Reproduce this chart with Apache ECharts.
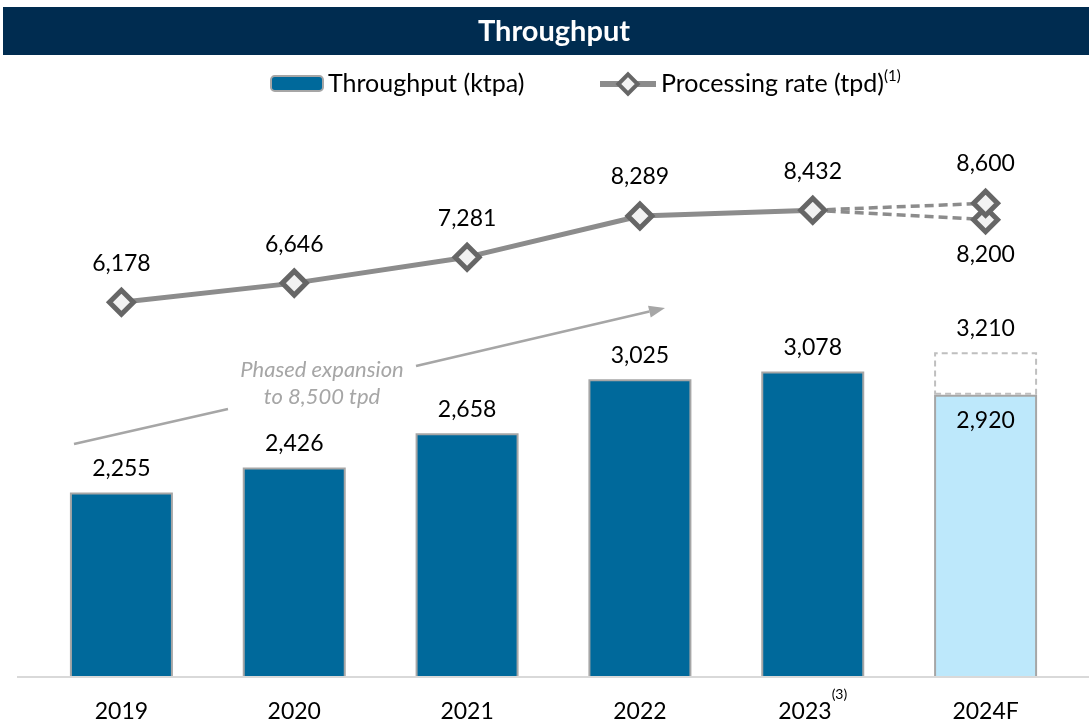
<!DOCTYPE html>
<html>
<head>
<meta charset="utf-8">
<script src="https://cdn.jsdelivr.net/npm/echarts@6/dist/echarts.min.js"></script>
<style>html,body{margin:0;padding:0;background:#fff}#c{width:1089px;height:725px}</style>
</head>
<body>
<div id="c"></div>
<script>
const categories = ['2019', '2020', '2021', '2022', '2023', '2024F'];
const categoryNotes = { '2023': '(3)' };
const throughput = [2255, 2426, 2658, 3025, 3078, 2920];
const throughputHigh2024 = 3210;
const processingRate = [6178, 6646, 7281, 8289, 8432, null];
const rateHigh2024 = 8600;
const rateLow2024 = 8200;

const FONT = 'Lato';
const fmt = v => Number(v).toLocaleString('en-US');
const n = categories.length;

const barData = throughput.map((v, i) => i === n - 1
  ? { value: v, itemStyle: { color: '#BDE8FB' }, label: { position: 'insideTop', distance: 14 } }
  : v);
const topData = categories.map((c, i) => i === n - 1 ? throughputHigh2024 - throughput[i] : null);
const lastActual = processingRate[n - 2];
const dashHigh = categories.map((c, i) => i === n - 2 ? { value: lastActual, symbol: 'none', label: { show: false } } : (i === n - 1 ? rateHigh2024 : null));
const dashLow = categories.map((c, i) => i === n - 2 ? { value: lastActual, symbol: 'none', label: { show: false } } : (i === n - 1 ? rateLow2024 : null));

const chart = echarts.init(document.getElementById('c'));
const diamondStyle = { color: '#F2F2F2', borderColor: '#666666', borderWidth: 5 };
const labelBase = { show: true, color: '#000', fontFamily: FONT, fontSize: 23 };

const dir = [0.975, -0.224], perp = [0.224, 0.975];
const tip = [665, 308];
const base = [tip[0] - 16 * dir[0], tip[1] - 16 * dir[1]];

chart.setOption({
  animation: false,
  textStyle: { fontFamily: FONT },
  grid: { left: 35, right: 17, top: 89, bottom: 48 },
  legend: [
    {
      left: 265, top: 66, padding: 5,
      itemWidth: 52, itemHeight: 15,
      data: ['Throughput (ktpa)'],
      textStyle: { fontFamily: FONT, fontSize: 25, color: '#000' }
    },
    {
      left: 592, top: 64, padding: 5,
      itemWidth: 56, itemHeight: 24,
      data: [{ name: 'Processing rate (tpd)', lineStyle: { width: 6, color: '#8C8C8C' }, itemStyle: { borderWidth: 4, borderColor: '#666666', color: '#F2F2F2' } }],
      textStyle: { fontFamily: FONT, fontSize: 25, color: '#000',
        rich: {
          n: { fontFamily: FONT, fontSize: 25, color: '#000', lineHeight: 30 },
          sup: { fontFamily: FONT, fontSize: 15, color: '#000', lineHeight: 15, verticalAlign: 'top' }
        } },
      formatter: name => '{n|' + name + '}{sup|(1)}'
    }
  ],
  xAxis: {
    type: 'category', data: categories,
    axisLine: { show: false }, axisTick: { show: false },
    axisLabel: {
      interval: 0,
      color: '#000', fontFamily: FONT, fontSize: 23, margin: 10,
      formatter: v => '{n|' + v + '}' + (categoryNotes[v] ? '{sup|' + categoryNotes[v] + '}' : ''),
      rich: {
        n: { fontFamily: FONT, fontSize: 23, color: '#000', lineHeight: 50 },
        sup: { fontFamily: FONT, fontSize: 14, color: '#000', lineHeight: 14, verticalAlign: 'top' }
      }
    }
  },
  yAxis: [
    { type: 'value', min: 1000, max: 5000, show: false, splitLine: { show: false } },
    { type: 'value', min: -3000, max: 11400, show: false, splitLine: { show: false } }
  ],
  series: [
    {
      name: 'Throughput (ktpa)', type: 'bar', stack: 't', barWidth: 103, data: barData,
      itemStyle: { color: '#00699B', borderColor: '#A6A6A6', borderWidth: 2 },
      label: Object.assign({}, labelBase, { position: 'top', distance: 12, formatter: p => fmt(p.value) })
    },
    {
      name: 'Throughput high', type: 'bar', stack: 't', barWidth: 103, data: topData,
      itemStyle: { color: 'rgba(255,255,255,0)', borderColor: '#BFBFBF', borderWidth: 2, borderType: [6, 4] },
      label: Object.assign({}, labelBase, { position: 'top', distance: 12, formatter: () => fmt(throughputHigh2024) })
    },
    {
      name: 'Rate low', type: 'line', yAxisIndex: 1, data: dashLow, z: 3,
      lineStyle: { color: '#8C8C8C', width: 3.5, type: [9, 5] },
      symbol: 'diamond', symbolSize: 24, itemStyle: diamondStyle,
      label: Object.assign({}, labelBase, { position: 'bottom', distance: 9, formatter: p => fmt(p.value) })
    },
    {
      name: 'Rate high', type: 'line', yAxisIndex: 1, data: dashHigh, z: 4,
      lineStyle: { color: '#8C8C8C', width: 3.5, type: [9, 5] },
      symbol: 'diamond', symbolSize: 24, itemStyle: diamondStyle,
      label: Object.assign({}, labelBase, { position: 'top', distance: 14, formatter: p => fmt(p.value) })
    },
    {
      name: 'Processing rate (tpd)', type: 'line', yAxisIndex: 1, data: processingRate, z: 5,
      lineStyle: { color: '#8C8C8C', width: 5 },
      symbol: 'diamond', symbolSize: 24, itemStyle: diamondStyle,
      label: Object.assign({}, labelBase, { position: 'top', distance: 13, formatter: p => fmt(p.value) })
    }
  ],
  graphic: [
    { type: 'rect', shape: { x: 3, y: 7, width: 1086, height: 48 }, style: { fill: '#002C50' }, z: 0 },
    { type: 'text', x: 554, y: 32, style: { text: 'Throughput', fill: '#fff', font: 'bold 29px Lato', textAlign: 'center', textVerticalAlign: 'middle' } },
    { type: 'line', shape: { x1: 17, y1: 677, x2: 1089, y2: 677 }, style: { stroke: '#D9D9D9', lineWidth: 2 }, z: 10 },
    { type: 'line', shape: { x1: 74, y1: 444, x2: 228, y2: 409 }, style: { stroke: '#A6A6A6', lineWidth: 2.5 } },
    { type: 'line', shape: { x1: 416, y1: 366, x2: base[0], y2: base[1] }, style: { stroke: '#A6A6A6', lineWidth: 2.5 } },
    { type: 'polygon', shape: { points: [tip, [base[0] + 6 * perp[0], base[1] + 6 * perp[1]], [base[0] - 6 * perp[0], base[1] - 6 * perp[1]]] }, style: { fill: '#A6A6A6' } },
    { type: 'text', x: 322, y: 383, style: { text: 'Phased expansion\nto 8,500 tpd', fill: '#A6A6A6', font: 'italic 22px Lato', textAlign: 'center', textVerticalAlign: 'middle', lineHeight: 27 } }
  ]
});
</script>
</body>
</html>
